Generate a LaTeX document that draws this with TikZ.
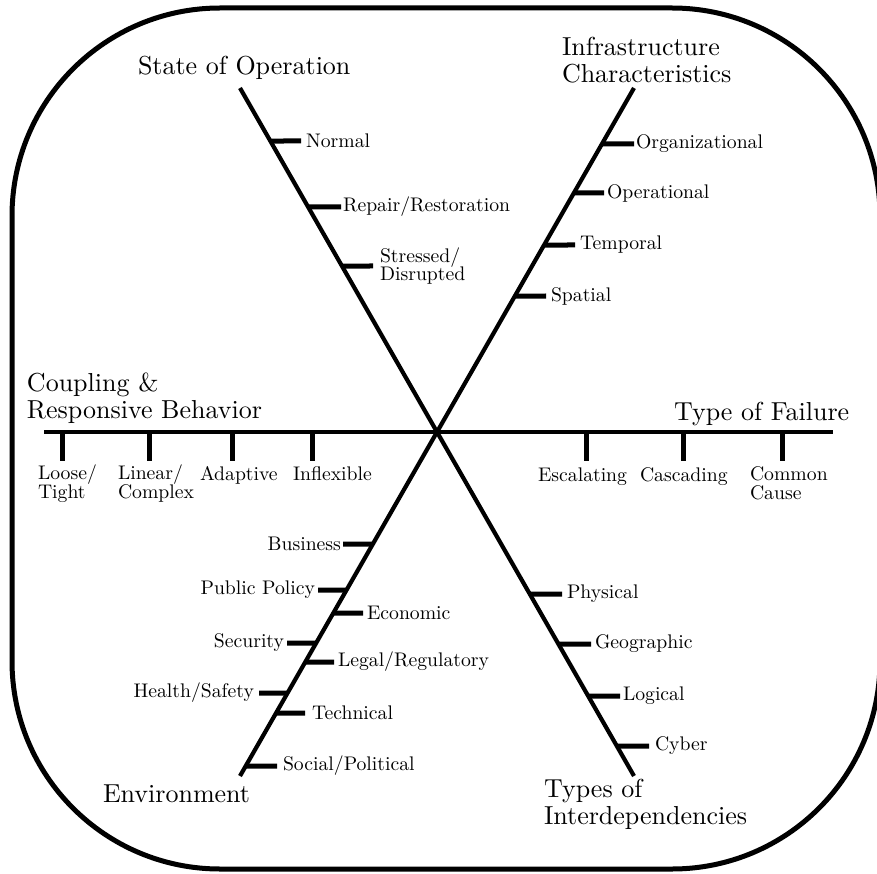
\documentclass[tikz,border=0pt]{standalone}
\usetikzlibrary{calc}
\tikzset{
  x=1pt,y=1pt,
  frame/.style={line width=5pt},
  axis/.style={line width=4.2pt},
  tickline/.style={line width=5pt},
  lab/.style={inner sep=0pt, outer sep=0pt, scale=1.97, transform shape,
    font=\fontsize{10}{9.6}\selectfont, align=left},
  biglab/.style={inner sep=0pt, outer sep=0pt, scale=2.6, transform shape,
    font=\fontsize{10}{10.4}\selectfont, align=left},
}
% #1 name, #2 arm end, #3 image y, #4 tick end x, #5 label x, #6 anchor, #7 text
\newcommand\dtick[7]{%
  \coordinate (#1a) at ($(C)!{abs(432-#3)/344}!(#2)$);
  \coordinate (#1b) at (#4,-#3);
  \draw[tickline] (#1a) -- (#1b);
  \node[lab,anchor=#6] (#1) at (#5,-#3) {#7};}
% #1 name, #2 x
\newcommand\htick[2]{%
  \coordinate (#1a) at (#2,-432);
  \coordinate (#1b) at (#2,-461);
  \draw[tickline] (#1a) -- (#1b);}
\begin{document}
\begin{tikzpicture}
\useasboundingbox (0,0) rectangle (877,-874);
\draw[frame, rounded corners=208pt] (12,-8) rectangle (880,-869);

\coordinate (C) at (437,-432);
\coordinate (S) at (240,-88);
\coordinate (T) at (634,-776);
\coordinate (I) at (634,-88);
\coordinate (E) at (240,-776);
\coordinate (L) at (44,-432);
\coordinate (R) at (833,-432);
\draw[axis] (S) -- (T);
\draw[axis] (I) -- (E);
\draw[axis] (L) -- (R);

% State of Operation
\dtick{normal}{S}{141}{301}{306}{west}{Normal}
\dtick{repair}{S}{207}{341}{343}{west}{Repair/Restoration}
\dtick{stressed}{S}{266}{373}{380}{west}{Stressed/\\Disrupted}
% Infrastructure Characteristics
\dtick{org}{I}{144}{634}{636}{west}{Organizational}
\dtick{oper}{I}{193}{604}{607}{west}{Operational}
\dtick{temp}{I}{245}{575}{580}{west}{Temporal}
\dtick{spat}{I}{296}{546}{551}{west}{Spatial}
% Types of Interdependencies
\dtick{phys}{T}{594}{562}{567}{west}{Physical}
\dtick{geo}{T}{644}{591}{595}{west}{Geographic}
\dtick{logi}{T}{696}{620}{623}{west}{Logical}
\dtick{cyber}{T}{746}{649}{655}{west}{Cyber}
% Environment
\dtick{econ}{E}{613}{363}{367}{west}{Economic}
\dtick{legal}{E}{662}{334}{338}{west}{Legal/Regulatory}
\dtick{tech}{E}{713}{305}{312}{west}{Technical}
\dtick{social}{E}{766}{277}{283}{west}{Social/Political}
\dtick{bus}{E}{544}{343}{341}{east}{Business}
\dtick{pub}{E}{590}{318}{315}{east}{Public Policy}
\dtick{sec}{E}{643}{287}{284}{east}{Security}
\dtick{health}{E}{693}{259}{254}{east}{Health/Safety}

% Coupling & Responsive Behavior
\htick{loose}{62}
\htick{linear}{149}
\htick{adapt}{232}
\htick{infl}{312}
\node[lab,anchor=north west] (loose) at (38,-465) {Loose/\\Tight};
\node[lab,anchor=north west] (linear) at (118,-465) {Linear/\\Complex};
\node[lab,anchor=base west] (adapt) at (200,-480) {Adaptive};
\node[lab,anchor=base west] (infl) at (293,-480) {Inflexible};
% Type of Failure
\htick{esc}{586}
\htick{casc}{683}
\htick{comm}{782}
\node[lab,anchor=base west] (esc) at (538,-481) {Escalating};
\node[lab,anchor=base west] (casc) at (640,-481) {Cascading};
\node[lab,anchor=north west] (comm) at (750,-467) {Common\\Cause};

% Main labels
\node[biglab,anchor=base west] (state) at (138,-75) {State of Operation};
\node[biglab,anchor=north west] (infra) at (562,-37) {Infrastructure\\Characteristics};
\node[biglab,anchor=north west] (coup) at (27,-373) {Coupling \&\\Responsive Behavior};
\node[biglab,anchor=base west] (fail) at (674,-420) {Type of Failure};
\node[biglab,anchor=base west] (env) at (103,-802) {Environment};
\node[biglab,anchor=north west] (types) at (544,-779) {Types of\\Interdependencies};
\end{tikzpicture}
\end{document}
